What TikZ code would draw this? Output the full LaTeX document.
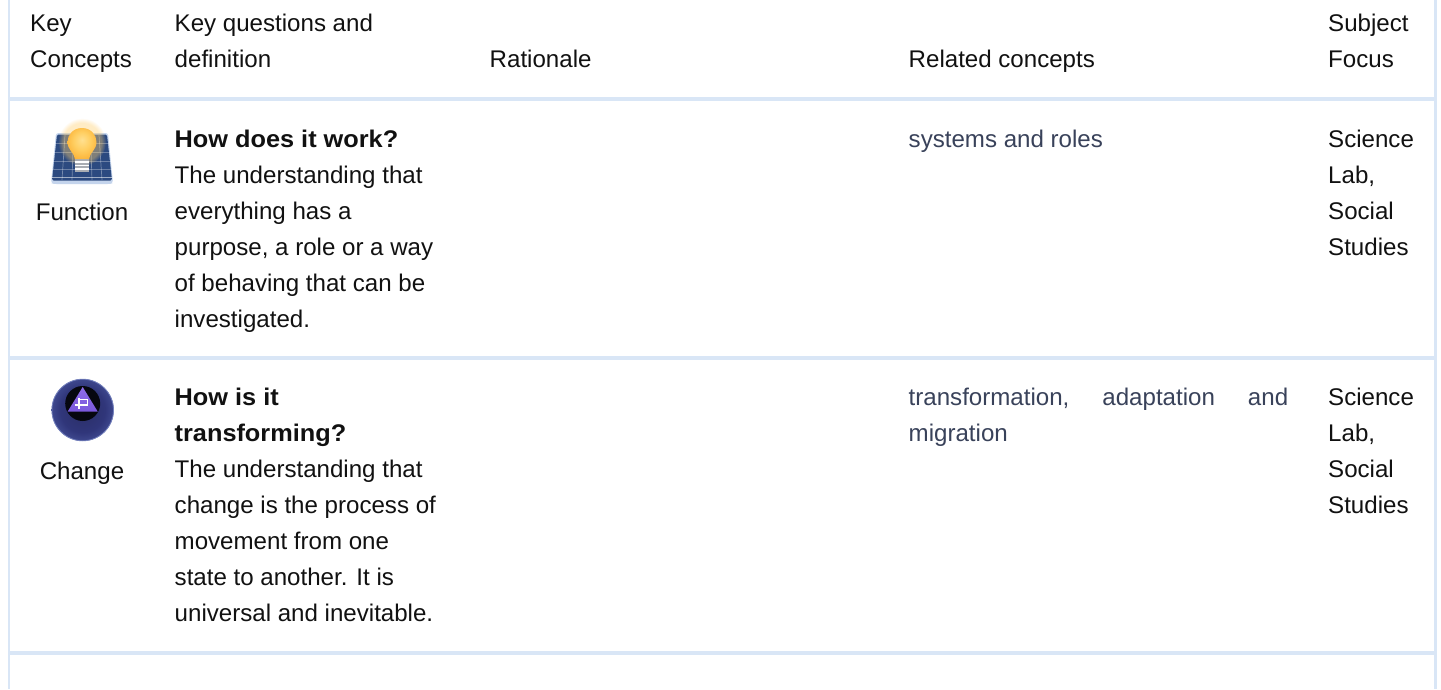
\documentclass[tikz,border=0pt]{standalone}
\usepackage{fontspec}
\setmainfont{Liberation Sans}[BoldFeatures={FakeStretch=1.05}]
\usetikzlibrary{shadings,fadings}
\definecolor{rulec}{HTML}{D9E6F6}
\definecolor{linkc}{HTML}{39425A}
\definecolor{txt}{HTML}{111111}
\definecolor{panel}{HTML}{2C4A80}
\definecolor{panelrim}{HTML}{C4D4EC}
\definecolor{orba}{HTML}{2A2E66}
\definecolor{orbb}{HTML}{30367A}
\definecolor{orbc}{HTML}{444F96}
\definecolor{orbd}{HTML}{7582BE}
\definecolor{bulba}{HTML}{FFE090}
\definecolor{bulbb}{HTML}{FFCF62}
\definecolor{bulbc}{HTML}{FBAE30}
\definecolor{haloa}{HTML}{FFD070}
\definecolor{purp}{HTML}{7A58DC}
\definecolor{purpl}{HTML}{8E6CE8}
\definecolor{socket}{HTML}{A9ADB3}
\pgfdeclareradialshading{orb}{\pgfpoint{0bp}{0bp}}{
  color(0bp)=(orba);
  color(18bp)=(orbb);
  color(28bp)=(orbc);
  color(34bp)=(orbd);
  color(50bp)=(orbd)}
\pgfdeclareradialshading{bulb}{\pgfpoint{0bp}{6bp}}{
  color(0bp)=(bulba);
  color(14bp)=(bulbb);
  color(32bp)=(bulbc);
  color(50bp)=(bulbc)}
\tikzset{
  x=1pt,y=-1pt,
  gridline/.style={rulec,line width=4pt},
  sideline/.style={rulec,line width=2.5pt},
  cell/.style={anchor=north west,inner sep=0pt,align=left,text=txt,font=\fontsize{24.1}{36}\selectfont},
  ccell/.style={anchor=north,inner sep=0pt,align=center,text=txt,font=\fontsize{24.1}{36}\selectfont},
  linkcell/.style={cell,text=linkc},
}
\newcommand{\st}{\rule{0pt}{18pt}}
\begin{document}
\begin{tikzpicture}
\useasboundingbox (0,0) rectangle (1441,689);
\fill[white] (0,0) rectangle (1441,689);
\draw[sideline] (9,0) -- (9,689);
\draw[sideline] (1435.5,0) -- (1435.5,689);
\coordinate (r1l) at (8,98.5); \coordinate (r1r) at (1434,98.5);
\coordinate (r2l) at (8,357.5); \coordinate (r2r) at (1434,357.5);
\coordinate (r3l) at (8,652.5); \coordinate (r3r) at (1434,652.5);
\draw[gridline] (r1l) -- (r1r);
\draw[gridline] (r2l) -- (r2r);
\draw[gridline] (r3l) -- (r3r);
% header
\node[cell] (h1) at (30,13) {\st Key\\Concepts};
\node[cell] (h2) at (174.5,13) {\st Key questions and\\definition};
\node[cell] (h3) at (489.5,49) {\st Rationale};
\node[cell] (h4) at (908.5,49) {\st Related concepts};
\node[cell] (h5) at (1328,13) {\st Subject\\Focus};
% row 1
\node[ccell] (f) at (82,202) {\st Function};
\node[cell] (d1) at (174.5,129) {\st \textbf{How does it work?}\\The understanding that\\everything has a\\purpose, a role or a way\\of behaving that can be\\investigated.};
\node[linkcell] (c1) at (908.5,129) {\st systems and roles};
\node[cell] (s1) at (1328,129) {\st Science\\Lab,\\Social\\Studies};
% row 2
\node[ccell] (g) at (82,461) {\st Change};
\node[cell] (d2) at (174.5,387) {\st \textbf{How is it}\\\textbf{transforming?}\\The understanding that\\change is the process of\\movement from one\\state to another. It is\\universal and inevitable.};
\node[linkcell] (c2) at (908.5,387) {\hbox to 379.5pt{\st transformation,\hfill adaptation\hfill and}\\migration};
\node[cell] (s2) at (1328,387) {\st Science\\Lab,\\Social\\Studies};
% bulb icon
\begin{scope}[shift={(82,158)}]
  \fill[panelrim,rounded corners=2.5pt] (-31,25) -- (-26,-25) -- (26,-25) -- (31,25) -- (28,26) -- (-28,26) -- cycle;
  \fill[panel,rounded corners=1.5pt] (-30,22.5) -- (-25,-23.5) -- (25,-23.5) -- (30,22.5) -- cycle;
  \foreach \t in {-15,-6,3,11} \draw[white,opacity=.3,line width=.7pt] (-30,\t) -- (30,\t);
  \draw[white,opacity=.55,line width=.8pt] (-30,19) -- (30,19);
  \foreach \b/\a in {-17/-20,-8.5/-10,8.5/10,17/20} \draw[white,opacity=.35,line width=.7pt] (\b,-23) -- (\a,22);
  \fill[haloa,opacity=.4,path fading=circle with fuzzy edge 20 percent] (0,-16) circle (24);
  \fill[socket] (-7,1) rectangle (7,14);
  \foreach \t in {4,7.5,11} \draw[white,line width=1.1pt] (-7,\t) -- (7,\t);
  \shade[shading=bulb] (0,-30) .. controls (-9,-30) and (-14.5,-23) .. (-14.5,-16) .. controls (-14.5,-8) and (-8,-6) .. (-7,1) -- (7,1) .. controls (8,-6) and (14.5,-8) .. (14.5,-16) .. controls (14.5,-23) and (9,-30) .. (0,-30) -- cycle;
\end{scope}
% ball icon
\begin{scope}[shift={(82.7,410)}]
  \shade[shading=orb] (0,0) circle (31);
  \draw[orbd,line width=.8pt] (0,0) circle (30.8);
  \fill[black!85!orba] (0,-6.5) circle (17.5);
  \shade[top color=purpl,bottom color=purp] (0,-23) -- (15,1.5) -- (-15,1.5) -- cycle;
  \draw[white,line width=1.3pt] (-3.7,-12) -- (-3.7,-1) (-3.7,-10.5) -- (4.8,-10.5) -- (4.8,-5) -- (-8,-5);
\end{scope}
\end{tikzpicture}
\end{document}
